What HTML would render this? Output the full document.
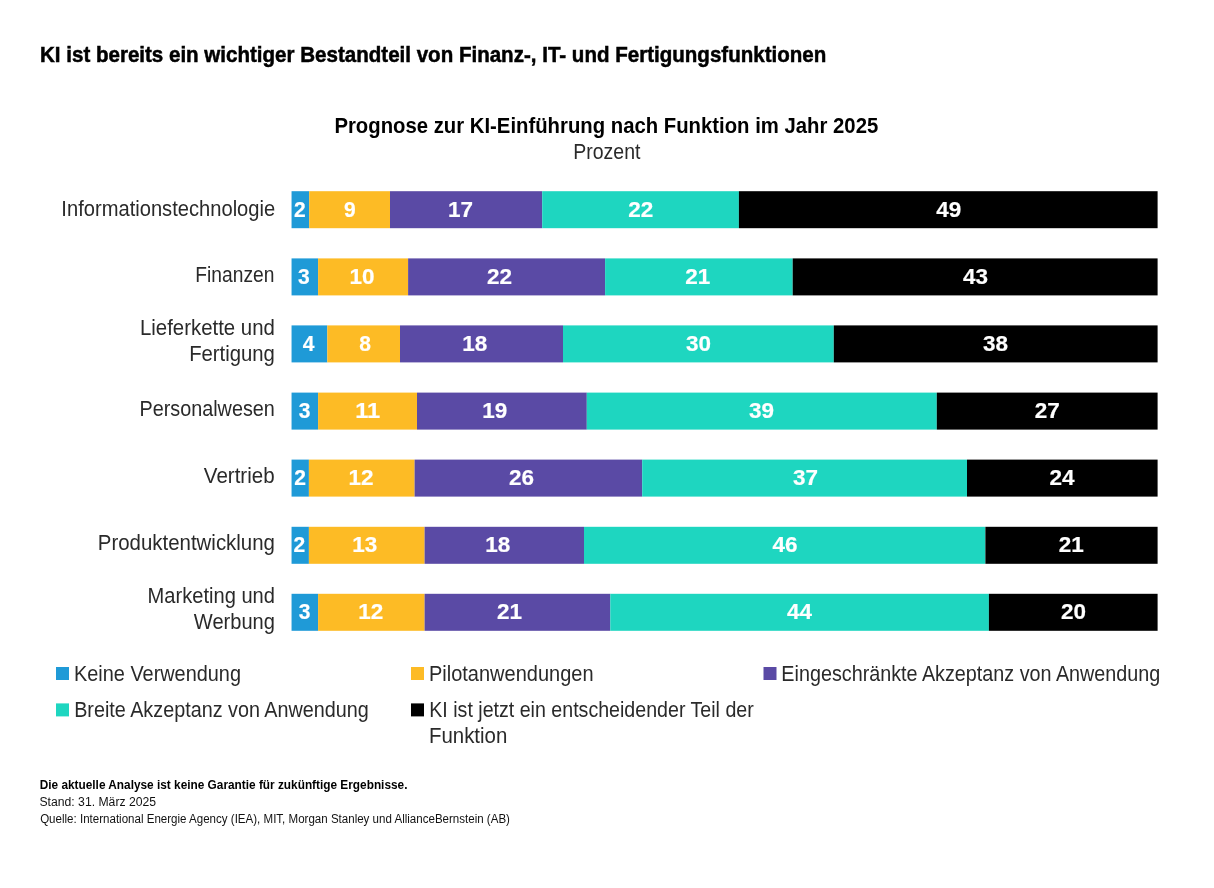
<!DOCTYPE html><html><head><meta charset="utf-8"><style>html,body{margin:0;padding:0;background:#fff;width:1214px;height:888px;overflow:hidden}svg{display:block;will-change:transform}text{font-family:"Liberation Sans",sans-serif}</style></head><body>
<svg width="1214" height="888" viewBox="0 0 1214 888">
<rect width="1214" height="888" fill="#fff"/>
<rect x="291.55" y="191.20" width="17.65" height="37.0" fill="#1F9AD7"/>
<rect x="309.20" y="191.20" width="80.80" height="37.0" fill="#FDBB25"/>
<rect x="390.00" y="191.20" width="152.20" height="37.0" fill="#5A4AA5"/>
<rect x="542.20" y="191.20" width="196.70" height="37.0" fill="#1ED6C0"/>
<rect x="738.90" y="191.20" width="418.70" height="37.0" fill="#000000"/>
<text x="299.97" y="216.60" font-size="22" font-weight="bold" fill="#fff" stroke="#fff" stroke-width="0.2" text-anchor="middle" textLength="11.70" lengthAdjust="spacingAndGlyphs">2</text>
<text x="349.90" y="216.60" font-size="22" font-weight="bold" fill="#fff" stroke="#fff" stroke-width="0.2" text-anchor="middle" textLength="11.70" lengthAdjust="spacingAndGlyphs">9</text>
<text x="460.60" y="216.60" font-size="22" font-weight="bold" fill="#fff" stroke="#fff" stroke-width="0.2" text-anchor="middle" textLength="25.00" lengthAdjust="spacingAndGlyphs">17</text>
<text x="640.75" y="216.60" font-size="22" font-weight="bold" fill="#fff" stroke="#fff" stroke-width="0.2" text-anchor="middle" textLength="25.00" lengthAdjust="spacingAndGlyphs">22</text>
<text x="948.65" y="216.60" font-size="22" font-weight="bold" fill="#fff" stroke="#fff" stroke-width="0.2" text-anchor="middle" textLength="25.00" lengthAdjust="spacingAndGlyphs">49</text>
<rect x="291.55" y="258.40" width="26.55" height="37.0" fill="#1F9AD7"/>
<rect x="318.10" y="258.40" width="90.00" height="37.0" fill="#FDBB25"/>
<rect x="408.10" y="258.40" width="197.00" height="37.0" fill="#5A4AA5"/>
<rect x="605.10" y="258.40" width="187.60" height="37.0" fill="#1ED6C0"/>
<rect x="792.70" y="258.40" width="364.90" height="37.0" fill="#000000"/>
<text x="303.83" y="283.80" font-size="22" font-weight="bold" fill="#fff" stroke="#fff" stroke-width="0.2" text-anchor="middle" textLength="11.70" lengthAdjust="spacingAndGlyphs">3</text>
<text x="362.10" y="283.80" font-size="22" font-weight="bold" fill="#fff" stroke="#fff" stroke-width="0.2" text-anchor="middle" textLength="25.00" lengthAdjust="spacingAndGlyphs">10</text>
<text x="499.40" y="283.80" font-size="22" font-weight="bold" fill="#fff" stroke="#fff" stroke-width="0.2" text-anchor="middle" textLength="25.00" lengthAdjust="spacingAndGlyphs">22</text>
<text x="697.70" y="283.80" font-size="22" font-weight="bold" fill="#fff" stroke="#fff" stroke-width="0.2" text-anchor="middle" textLength="25.00" lengthAdjust="spacingAndGlyphs">21</text>
<text x="975.45" y="283.80" font-size="22" font-weight="bold" fill="#fff" stroke="#fff" stroke-width="0.2" text-anchor="middle" textLength="25.00" lengthAdjust="spacingAndGlyphs">43</text>
<rect x="291.55" y="325.40" width="35.75" height="37.0" fill="#1F9AD7"/>
<rect x="327.30" y="325.40" width="72.70" height="37.0" fill="#FDBB25"/>
<rect x="400.00" y="325.40" width="163.00" height="37.0" fill="#5A4AA5"/>
<rect x="563.00" y="325.40" width="270.80" height="37.0" fill="#1ED6C0"/>
<rect x="833.80" y="325.40" width="323.80" height="37.0" fill="#000000"/>
<text x="308.63" y="350.80" font-size="22" font-weight="bold" fill="#fff" stroke="#fff" stroke-width="0.2" text-anchor="middle" textLength="11.70" lengthAdjust="spacingAndGlyphs">4</text>
<text x="365.15" y="350.80" font-size="22" font-weight="bold" fill="#fff" stroke="#fff" stroke-width="0.2" text-anchor="middle" textLength="11.70" lengthAdjust="spacingAndGlyphs">8</text>
<text x="474.70" y="350.80" font-size="22" font-weight="bold" fill="#fff" stroke="#fff" stroke-width="0.2" text-anchor="middle" textLength="25.00" lengthAdjust="spacingAndGlyphs">18</text>
<text x="698.40" y="350.80" font-size="22" font-weight="bold" fill="#fff" stroke="#fff" stroke-width="0.2" text-anchor="middle" textLength="25.00" lengthAdjust="spacingAndGlyphs">30</text>
<text x="995.50" y="350.80" font-size="22" font-weight="bold" fill="#fff" stroke="#fff" stroke-width="0.2" text-anchor="middle" textLength="25.00" lengthAdjust="spacingAndGlyphs">38</text>
<rect x="291.55" y="392.60" width="26.55" height="37.0" fill="#1F9AD7"/>
<rect x="318.10" y="392.60" width="98.90" height="37.0" fill="#FDBB25"/>
<rect x="417.00" y="392.60" width="169.80" height="37.0" fill="#5A4AA5"/>
<rect x="586.80" y="392.60" width="350.00" height="37.0" fill="#1ED6C0"/>
<rect x="936.80" y="392.60" width="220.80" height="37.0" fill="#000000"/>
<text x="304.58" y="418.00" font-size="22" font-weight="bold" fill="#fff" stroke="#fff" stroke-width="0.2" text-anchor="middle" textLength="11.70" lengthAdjust="spacingAndGlyphs">3</text>
<text x="367.75" y="418.00" font-size="22" font-weight="bold" fill="#fff" stroke="#fff" stroke-width="0.2" text-anchor="middle" textLength="25.00" lengthAdjust="spacingAndGlyphs">11</text>
<text x="494.80" y="418.00" font-size="22" font-weight="bold" fill="#fff" stroke="#fff" stroke-width="0.2" text-anchor="middle" textLength="25.00" lengthAdjust="spacingAndGlyphs">19</text>
<text x="761.50" y="418.00" font-size="22" font-weight="bold" fill="#fff" stroke="#fff" stroke-width="0.2" text-anchor="middle" textLength="25.00" lengthAdjust="spacingAndGlyphs">39</text>
<text x="1047.20" y="418.00" font-size="22" font-weight="bold" fill="#fff" stroke="#fff" stroke-width="0.2" text-anchor="middle" textLength="25.00" lengthAdjust="spacingAndGlyphs">27</text>
<rect x="291.55" y="459.60" width="17.35" height="37.0" fill="#1F9AD7"/>
<rect x="308.90" y="459.60" width="105.70" height="37.0" fill="#FDBB25"/>
<rect x="414.60" y="459.60" width="227.60" height="37.0" fill="#5A4AA5"/>
<rect x="642.20" y="459.60" width="324.80" height="37.0" fill="#1ED6C0"/>
<rect x="967.00" y="459.60" width="190.60" height="37.0" fill="#000000"/>
<text x="300.07" y="485.00" font-size="22" font-weight="bold" fill="#fff" stroke="#fff" stroke-width="0.2" text-anchor="middle" textLength="11.70" lengthAdjust="spacingAndGlyphs">2</text>
<text x="361.05" y="485.00" font-size="22" font-weight="bold" fill="#fff" stroke="#fff" stroke-width="0.2" text-anchor="middle" textLength="25.00" lengthAdjust="spacingAndGlyphs">12</text>
<text x="521.50" y="485.00" font-size="22" font-weight="bold" fill="#fff" stroke="#fff" stroke-width="0.2" text-anchor="middle" textLength="25.00" lengthAdjust="spacingAndGlyphs">26</text>
<text x="805.40" y="485.00" font-size="22" font-weight="bold" fill="#fff" stroke="#fff" stroke-width="0.2" text-anchor="middle" textLength="25.00" lengthAdjust="spacingAndGlyphs">37</text>
<text x="1061.90" y="485.00" font-size="22" font-weight="bold" fill="#fff" stroke="#fff" stroke-width="0.2" text-anchor="middle" textLength="25.00" lengthAdjust="spacingAndGlyphs">24</text>
<rect x="291.55" y="526.80" width="17.35" height="37.0" fill="#1F9AD7"/>
<rect x="308.90" y="526.80" width="115.70" height="37.0" fill="#FDBB25"/>
<rect x="424.60" y="526.80" width="159.40" height="37.0" fill="#5A4AA5"/>
<rect x="584.00" y="526.80" width="401.40" height="37.0" fill="#1ED6C0"/>
<rect x="985.40" y="526.80" width="172.20" height="37.0" fill="#000000"/>
<text x="299.38" y="552.20" font-size="22" font-weight="bold" fill="#fff" stroke="#fff" stroke-width="0.2" text-anchor="middle" textLength="11.70" lengthAdjust="spacingAndGlyphs">2</text>
<text x="364.75" y="552.20" font-size="22" font-weight="bold" fill="#fff" stroke="#fff" stroke-width="0.2" text-anchor="middle" textLength="25.00" lengthAdjust="spacingAndGlyphs">13</text>
<text x="497.70" y="552.20" font-size="22" font-weight="bold" fill="#fff" stroke="#fff" stroke-width="0.2" text-anchor="middle" textLength="25.00" lengthAdjust="spacingAndGlyphs">18</text>
<text x="785.10" y="552.20" font-size="22" font-weight="bold" fill="#fff" stroke="#fff" stroke-width="0.2" text-anchor="middle" textLength="25.00" lengthAdjust="spacingAndGlyphs">46</text>
<text x="1071.30" y="552.20" font-size="22" font-weight="bold" fill="#fff" stroke="#fff" stroke-width="0.2" text-anchor="middle" textLength="25.00" lengthAdjust="spacingAndGlyphs">21</text>
<rect x="291.55" y="593.80" width="26.55" height="37.0" fill="#1F9AD7"/>
<rect x="318.10" y="593.80" width="106.50" height="37.0" fill="#FDBB25"/>
<rect x="424.60" y="593.80" width="185.70" height="37.0" fill="#5A4AA5"/>
<rect x="610.30" y="593.80" width="378.60" height="37.0" fill="#1ED6C0"/>
<rect x="988.90" y="593.80" width="168.70" height="37.0" fill="#000000"/>
<text x="304.58" y="619.20" font-size="22" font-weight="bold" fill="#fff" stroke="#fff" stroke-width="0.2" text-anchor="middle" textLength="11.70" lengthAdjust="spacingAndGlyphs">3</text>
<text x="370.65" y="619.20" font-size="22" font-weight="bold" fill="#fff" stroke="#fff" stroke-width="0.2" text-anchor="middle" textLength="25.00" lengthAdjust="spacingAndGlyphs">12</text>
<text x="509.55" y="619.20" font-size="22" font-weight="bold" fill="#fff" stroke="#fff" stroke-width="0.2" text-anchor="middle" textLength="25.00" lengthAdjust="spacingAndGlyphs">21</text>
<text x="799.60" y="619.20" font-size="22" font-weight="bold" fill="#fff" stroke="#fff" stroke-width="0.2" text-anchor="middle" textLength="25.00" lengthAdjust="spacingAndGlyphs">44</text>
<text x="1073.55" y="619.20" font-size="22" font-weight="bold" fill="#fff" stroke="#fff" stroke-width="0.2" text-anchor="middle" textLength="25.00" lengthAdjust="spacingAndGlyphs">20</text>
<rect x="56" y="667" width="13" height="13" fill="#1F9AD7"/>
<rect x="411" y="667" width="13" height="13" fill="#FDBB25"/>
<rect x="763.5" y="667" width="13" height="13" fill="#5A4AA5"/>
<rect x="56" y="703.4" width="13" height="13" fill="#1ED6C0"/>
<rect x="411" y="703.4" width="13" height="13" fill="#000000"/>
<text x="40.01" y="61.70" font-size="21.5" font-weight="bold" fill="#000" stroke="#000" stroke-width="0.5" textLength="786.30" lengthAdjust="spacingAndGlyphs">KI ist bereits ein wichtiger Bestandteil von Finanz-, IT- und Fertigungsfunktionen</text>
<text x="334.39" y="133.00" font-size="21.5" font-weight="bold" fill="#000" textLength="543.86" lengthAdjust="spacingAndGlyphs">Prognose zur KI-Einführung nach Funktion im Jahr 2025</text>
<text x="573.24" y="158.90" font-size="21.5" fill="#2a2a2a" textLength="67.27" lengthAdjust="spacingAndGlyphs">Prozent</text>
<text x="61.35" y="215.50" font-size="21.5" fill="#2a2a2a" textLength="213.86" lengthAdjust="spacingAndGlyphs">Informationstechnologie</text>
<text x="195.36" y="281.80" font-size="21.5" fill="#2a2a2a" textLength="79.02" lengthAdjust="spacingAndGlyphs">Finanzen</text>
<text x="139.98" y="335.00" font-size="21.5" fill="#2a2a2a" textLength="134.91" lengthAdjust="spacingAndGlyphs">Lieferkette und</text>
<text x="189.13" y="360.60" font-size="21.5" fill="#2a2a2a" textLength="85.75" lengthAdjust="spacingAndGlyphs">Fertigung</text>
<text x="139.53" y="416.10" font-size="21.5" fill="#2a2a2a" textLength="135.32" lengthAdjust="spacingAndGlyphs">Personalwesen</text>
<text x="203.85" y="483.00" font-size="21.5" fill="#2a2a2a" textLength="70.77" lengthAdjust="spacingAndGlyphs">Vertrieb</text>
<text x="97.82" y="550.10" font-size="21.5" fill="#2a2a2a" textLength="177.14" lengthAdjust="spacingAndGlyphs">Produktentwicklung</text>
<text x="147.59" y="603.10" font-size="21.5" fill="#2a2a2a" textLength="127.37" lengthAdjust="spacingAndGlyphs">Marketing und</text>
<text x="193.83" y="628.50" font-size="21.5" fill="#2a2a2a" textLength="81.08" lengthAdjust="spacingAndGlyphs">Werbung</text>
<text x="74.05" y="681.00" font-size="21.5" fill="#2a2a2a" textLength="166.91" lengthAdjust="spacingAndGlyphs">Keine Verwendung</text>
<text x="428.97" y="681.00" font-size="21.5" fill="#2a2a2a" textLength="164.57" lengthAdjust="spacingAndGlyphs">Pilotanwendungen</text>
<text x="781.36" y="681.00" font-size="21.5" fill="#2a2a2a" textLength="378.93" lengthAdjust="spacingAndGlyphs">Eingeschränkte Akzeptanz von Anwendung</text>
<text x="74.14" y="717.00" font-size="21.5" fill="#2a2a2a" textLength="294.63" lengthAdjust="spacingAndGlyphs">Breite Akzeptanz von Anwendung</text>
<text x="429.26" y="717.00" font-size="21.5" fill="#2a2a2a" textLength="324.49" lengthAdjust="spacingAndGlyphs">KI ist jetzt ein entscheidender Teil der</text>
<text x="428.95" y="743.10" font-size="21.5" fill="#2a2a2a" textLength="78.34" lengthAdjust="spacingAndGlyphs">Funktion</text>
<text x="39.74" y="788.90" font-size="12" font-weight="bold" fill="#000" textLength="367.69" lengthAdjust="spacingAndGlyphs">Die aktuelle Analyse ist keine Garantie für zukünftige Ergebnisse.</text>
<text x="39.48" y="806.00" font-size="12" fill="#111" textLength="116.61" lengthAdjust="spacingAndGlyphs">Stand: 31. März 2025</text>
<text x="40.15" y="822.90" font-size="12" fill="#111" textLength="469.83" lengthAdjust="spacingAndGlyphs">Quelle: International Energie Agency (IEA), MIT, Morgan Stanley und AllianceBernstein (AB)</text>
</svg></body></html>
